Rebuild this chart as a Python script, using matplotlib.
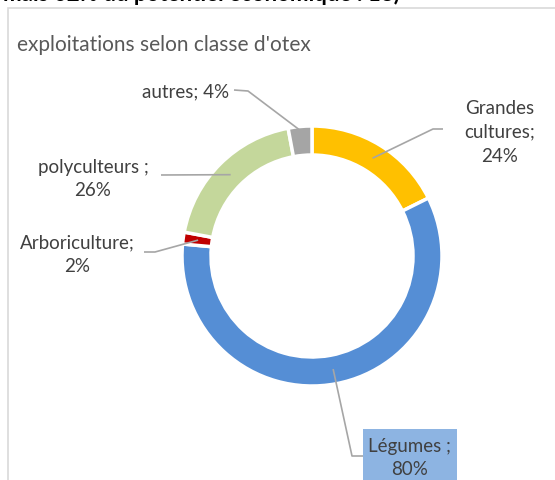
import matplotlib
matplotlib.use("Agg")
import matplotlib.pyplot as plt
import numpy as np
from matplotlib.patches import Rectangle

plt.rcParams['font.family'] = ['Lato', 'DejaVu Sans']

categories = ["Grandes\ncultures;", "Légumes ;", "Arboriculture;", "polyculteurs ;", "autres;"]
values = [24, 80, 2, 26, 4]
pct_labels = ["24%", "80%", "2%", "26%", "4%"]
colors = ["#FFC000", "#558ED5", "#C00000", "#C4D79B", "#A5A5A5"]

W, H = 555, 481
fig = plt.figure(figsize=(W / 100, H / 100), dpi=100)
ax = fig.add_axes([0, 0, 1, 1])

def py(y):
    return H - y

cx, cy, R = 312, 257, 130
wedges, _ = ax.pie(values, colors=colors, startangle=90, counterclock=False,
                   center=(cx, py(cy)), radius=R,
                   wedgeprops=dict(width=29, edgecolor="white", linewidth=2.5))
ax.set_xlim(0, W)
ax.set_ylim(0, H)
ax.set_aspect('auto')
ax.axis('off')

# frame
ax.add_patch(Rectangle((8, -5), 600, py(9) + 5, fill=False, edgecolor="#D9D9D9", linewidth=1.2))
# clipped header text
ax.text(3, py(1), "mais 62% du potentiel économique : 18)", fontsize=16, fontweight='bold',
        color="black", ha='left', va='baseline')
ax.text(17, py(45), "exploitations selon classe d'otex", fontsize=15, color="#595959",
        ha='left', va='center')

def anchor(i, r):
    w = wedges[i]
    a = np.deg2rad((w.theta1 + w.theta2) / 2)
    return cx + r * np.cos(a), cy - r * np.sin(a)

lc = "#A6A6A6"
tc = "#404040"
fs = 13.5

# leaders: list of pixel points after anchor
leaders = [
    (0, 115, [(433, 130), (443, 130)]),
    (1, 115, [(352, 457), (363, 457)]),
    (2, 115, [(155, 253), (144, 253)]),
    (3, 115, [(161, 176)]),
    (4, 126, [(248, 92), (234, 91)]),
]
for i, r, pts in leaders:
    x0, y0 = anchor(i, r)
    xs = [x0] + [p[0] for p in pts]
    ys = [py(y0)] + [py(p[1]) for p in pts]
    ax.plot(xs, ys, color=lc, linewidth=1.2, solid_capstyle='butt')

# labels
ax.add_patch(Rectangle((363, py(481) - 5), 94, 51 + 5, facecolor="#8DB4E2", edgecolor="none"))
label_pos = [
    (500, [108, 132, 156]),
    (410, [447, 470]),
    (77, [243, 267]),
    (93, [167, 190]),
]
for i, (x, ys) in enumerate(label_pos):
    lines = categories[i].split("\n") + [pct_labels[i]]
    for line, y in zip(lines, ys):
        ax.text(x, py(y), line, fontsize=fs, color=tc, ha='center', va='center')
ax.text(229, py(92), categories[4] + " " + pct_labels[4], fontsize=fs, color=tc,
        ha='right', va='center')

fig.savefig("out.png", dpi=100)
